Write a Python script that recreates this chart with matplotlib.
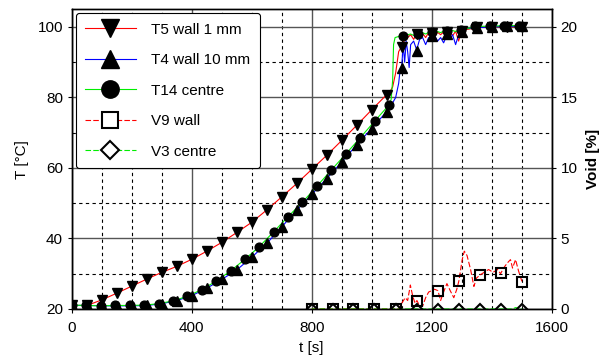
import numpy as np
import matplotlib
matplotlib.use("Agg")
import matplotlib.pyplot as plt
from matplotlib.ticker import MultipleLocator
from matplotlib.lines import Line2D

plt.rcParams['font.family'] = ['Liberation Sans', 'DejaVu Sans']
plt.rcParams['font.size'] = 11

# ---- temperature traces (lines) ----
t_T5 = [0, 50, 100, 150, 200, 250, 300, 350, 400, 450, 500, 550, 600, 650, 700,
        750, 800, 850, 900, 950, 1000, 1050, 1060, 1070, 1080, 1090, 1100, 1110,
        1120, 1130, 1140, 1150, 1160, 1170, 1180, 1190, 1200, 1210, 1220, 1230,
        1240, 1250, 1260, 1270, 1280, 1290, 1300, 1350, 1400, 1450, 1500]
T5 = [21.0, 21.0, 22.6, 24.5, 26.5, 28.5, 30.4, 32.1, 34.1, 36.4, 38.9, 41.7, 44.6,
      48.1, 51.8, 55.6, 59.6, 63.6, 67.8, 72.1, 76.5, 80.8, 81.5, 83.0, 87.0, 93.0,
      94.5, 96.5, 97.0, 97.8, 96.5, 98.0, 97.5, 98.2, 97.0, 98.4, 98.3, 97.5, 98.5,
      97.8, 98.6, 98.0, 98.7, 97.5, 98.8, 96.0, 99.0, 99.8, 100.0, 100.1, 100.0]

t_T4 = [0, 50, 100, 150, 200, 250, 300, 350, 400, 450, 500, 550, 600, 650, 700,
        750, 800, 850, 900, 950, 1000, 1050, 1070, 1080, 1090, 1095, 1100, 1105,
        1110, 1115, 1120, 1125, 1130, 1140, 1150, 1160, 1170, 1180, 1190, 1200,
        1210, 1220, 1230, 1240, 1250, 1260, 1270, 1280, 1290, 1300, 1310, 1350,
        1400, 1450, 1500]
T4 = [21.0, 21.0, 20.9, 20.9, 20.9, 21.0, 21.5, 22.4, 23.8, 25.9, 28.4, 31.1, 34.7,
      38.6, 43.3, 48.0, 52.5, 57.0, 61.7, 66.6, 71.2, 76.0, 78.5, 80.0, 84.0, 88.0,
      88.5, 95.0, 90.0, 96.0, 93.0, 88.5, 95.0, 96.0, 93.5, 96.5, 97.0, 95.0, 97.0,
      96.5, 97.5, 96.0, 97.0, 95.5, 97.5, 96.5, 97.8, 95.0, 97.8, 98.5, 99.5, 99.8,
      100.0, 100.2, 100.2]

t_T14 = [0, 48, 96, 144, 193, 241, 289, 337, 385, 433, 481, 529, 577, 625, 673,
         721, 769, 817, 865, 913, 962, 1010, 1058, 1065, 1070, 1073, 1078, 1090,
         1100, 1110, 1120, 1130, 1140, 1150, 1160, 1170, 1180, 1190, 1200, 1210,
         1220, 1230, 1240, 1250, 1260, 1270, 1280, 1290, 1300, 1346, 1394, 1442, 1490]
T14 = [21.1, 21.0, 20.9, 21.0, 21.0, 21.1, 21.5, 22.3, 23.6, 25.5, 27.9, 30.8, 34.1,
       37.7, 41.9, 46.2, 50.3, 54.8, 59.4, 63.9, 68.6, 73.3, 77.9, 79.5, 85.0, 95.0,
       97.0, 97.3, 97.5, 97.0, 97.8, 98.0, 97.6, 98.1, 97.8, 98.4, 98.0, 98.5, 98.6,
       98.2, 98.7, 98.4, 98.8, 98.8, 98.5, 99.0, 98.7, 99.1, 99.1, 100.2, 100.2,
       100.4, 100.4]

# ---- temperature markers ----
tm_T5 = [0, 50, 100, 150, 200, 250, 300, 350, 400, 450, 500, 550, 600, 650, 700,
         750, 800, 850, 900, 950, 1000, 1050, 1100, 1150, 1200, 1250, 1300, 1350,
         1400, 1450, 1500]
Tm_T5 = [21.0, 21.0, 22.6, 24.5, 26.5, 28.5, 30.4, 32.1, 34.1, 36.4, 38.9, 41.7,
         44.6, 48.1, 51.8, 55.6, 59.6, 63.6, 67.8, 72.1, 76.5, 80.8, 94.2, 98.0,
         98.4, 98.6, 99.0, 100.0, 100.0, 100.1, 100.0]

tm_T4 = [0, 50, 100, 150, 200, 250, 300, 350, 400, 450, 500, 550, 600, 650, 700,
         750, 800, 850, 900, 950, 1000, 1050, 1100, 1150, 1200, 1250, 1300, 1350,
         1400, 1450, 1500]
Tm_T4 = [21.0, 21.0, 20.9, 20.9, 20.9, 21.0, 21.5, 22.4, 23.8, 25.9, 28.4, 31.1,
         34.7, 38.6, 43.3, 48.0, 52.5, 57.0, 61.7, 66.6, 71.2, 76.0, 88.5, 93.3,
         97.5, 98.0, 98.6, 99.8, 100.0, 100.2, 100.2]

tm_T14 = [0, 48, 96, 144, 193, 241, 289, 337, 385, 433, 481, 529, 577, 625, 673,
          721, 769, 817, 865, 913, 962, 1010, 1058, 1106, 1154, 1202, 1250, 1298,
          1346, 1394, 1442, 1490]
Tm_T14 = [21.1, 21.0, 20.9, 21.0, 21.0, 21.1, 21.5, 22.3, 23.6, 25.5, 27.9, 30.8,
          34.1, 37.7, 41.9, 46.2, 50.3, 54.8, 59.4, 63.9, 68.6, 73.3, 77.9, 97.5,
          98.1, 98.6, 98.8, 99.1, 100.2, 100.2, 100.4, 100.4]

# ---- void fractions ----
t_V9 = [800, 850, 900, 950, 1000, 1050, 1090, 1100, 1112, 1120, 1129, 1137, 1145,
        1151, 1160, 1170, 1180, 1190, 1200, 1210, 1221, 1230, 1240, 1251, 1262,
        1274, 1284, 1291, 1302, 1309, 1318, 1330, 1341, 1350, 1361, 1375, 1390,
        1405, 1420, 1430, 1440, 1452, 1463, 1470, 1480, 1490, 1502]
V9 = [0, 0, 0, 0, 0, 0, 0, 0.4, 0.8, 0.6, 1.7, 0.9, 0.4, 0.6, 0.2, 0.2, 0.8, 1.2,
      1.3, 1.4, 1.3, 0.6, 1.2, 1.8, 1.3, 0.8, 1.4, 2.0, 3.5, 4.1, 3.8, 2.8, 1.6,
      2.2, 2.4, 2.6, 2.8, 2.6, 2.8, 2.5, 2.9, 3.25, 3.5, 2.9, 3.5, 2.7, 1.9]
tm_V9 = [800, 870, 939, 1009, 1080, 1151, 1221, 1291, 1361, 1432, 1502]
Vm_V9 = [0, 0, 0, 0, 0, 0.59, 1.28, 2.02, 2.42, 2.52, 1.90]

t_V3 = [800, 900, 1000, 1100, 1200, 1300, 1400, 1470, 1480, 1490, 1502]
V3 = [0, 0, 0, 0, 0, 0, 0, 0, 0.1, 0.05, 0]
tm_V3 = [800, 870, 939, 1009, 1080, 1151, 1221, 1291, 1361, 1432, 1502]
Vm_V3 = [0, 0, 0, 0, 0, 0, 0, 0, 0, 0, 0]

labels = ['T5 wall 1 mm', 'T4 wall 10 mm', 'T14 centre', 'V9 wall', 'V3 centre']

GREEN = '#00ee00'
DASH = (0, (5, 2))

fig = plt.figure(figsize=(6.09, 3.6), dpi=100)
ax = fig.add_axes([0.1182, 0.1417, 0.7874, 0.8323])
ax2 = ax.twinx()

lw = 0.8
ax.plot(t_T5, T5, color='red', lw=lw, zorder=2)
ax.plot(t_T4, T4, color='blue', lw=lw, zorder=2)
ax.plot(t_T14, T14, color=GREEN, lw=lw, zorder=2)
ax.plot(tm_T5, Tm_T5, ls='none', marker='v', ms=7, color='black', zorder=3)
ax.plot(tm_T4, Tm_T4, ls='none', marker='^', ms=7, color='black', zorder=3)
ax.plot(tm_T14, Tm_T14, ls='none', marker='o', ms=6.3, color='black', zorder=3)

ax2.plot(t_V9, V9, color='red', lw=lw, ls=DASH, zorder=2)
ax2.plot(t_V3, V3, color=GREEN, lw=lw, ls=DASH, zorder=2)
ax2.plot(tm_V9, Vm_V9, ls='none', marker='s', ms=6.5, mfc='none', mec='black',
         mew=1.5, zorder=3)
ax2.plot(tm_V3, Vm_V3, ls='none', marker='D', ms=4.8, mfc='none', mec='black',
         mew=1.5, zorder=3)

ax.set_xlim(0, 1600)
ax.set_ylim(20, 105)
ax2.set_ylim(0, 21.25)

ax.xaxis.set_major_locator(MultipleLocator(400))
ax.xaxis.set_minor_locator(MultipleLocator(100))
ax.yaxis.set_major_locator(MultipleLocator(20))
ax.yaxis.set_minor_locator(MultipleLocator(10))
ax2.yaxis.set_major_locator(MultipleLocator(5))

ax.grid(which='major', color='#555555', lw=1.0, ls='-')
ax.grid(which='minor', color='black', lw=0.8, ls=(0, (3, 3)))
ax.set_axisbelow(True)

ax.tick_params(which='major', direction='out', length=3, width=0.8)
ax.tick_params(axis='x', which='major', pad=6)
ax.tick_params(which='minor', length=0)
ax2.tick_params(which='major', direction='out', length=3, width=0.8)
for a in (ax, ax2):
    for s in a.spines.values():
        s.set_linewidth(1.0)

ax.set_xlabel('t [s]', labelpad=4)
ax.set_ylabel('T [°C]', labelpad=6)
ax2.set_ylabel('Void [%]', fontweight='bold', labelpad=6)

# legend entries with enlarged markers
proxy = [
    Line2D([], [], color='red', lw=lw, marker='v', ms=13, mfc='black', mec='black'),
    Line2D([], [], color='blue', lw=lw, marker='^', ms=13, mfc='black', mec='black'),
    Line2D([], [], color=GREEN, lw=lw, marker='o', ms=12.5, mfc='black', mec='black'),
    Line2D([], [], color='red', lw=lw, ls=DASH, marker='s', ms=11,
           mfc='white', mec='black', mew=1.5),
    Line2D([], [], color=GREEN, lw=lw, ls=DASH, marker='D', ms=9,
           mfc='white', mec='black', mew=1.5),
]
leg = ax2.legend(proxy, labels, loc='upper left', fontsize=11, handlelength=3.3,
                 handletextpad=1.0, labelspacing=1.08, borderpad=0.62,
                 borderaxespad=0.25, fancybox=True, framealpha=1,
                 edgecolor='black')
leg.get_frame().set_linewidth(0.8)

fig.savefig('out.png', dpi=100)
